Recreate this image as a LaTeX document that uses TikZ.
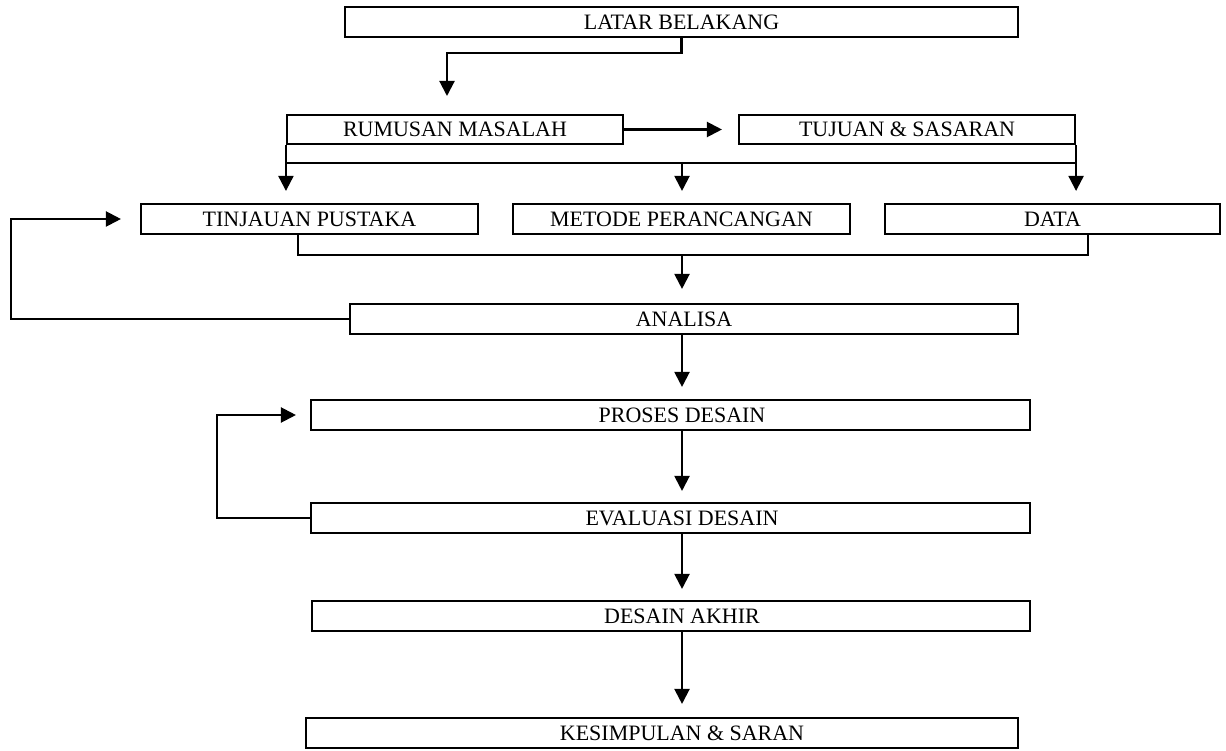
\documentclass[tikz,border=0pt]{standalone}
\usepackage{fontspec}
\setmainfont{Liberation Serif}
\usetikzlibrary{positioning}
\usetikzlibrary{arrows.meta}
\tikzstyle{stage} = [rectangle, draw=black, line width=1.2pt, minimum height=0.6cm, inner sep=0pt, text centered, font=\fontsize{12.5}{14}\selectfont]
\tikzstyle{stagetext} = [inner sep=0pt, font=\fontsize{12.5}{14}\selectfont]
\tikzstyle{arrow} = [line width=1.2pt, -{Triangle[width=0.3cm,length=0.3cm]}, shorten >=0.24cm]
\tikzstyle{link} = [line width=1.2pt]

\begin{document}
\begin{tikzpicture}
\useasboundingbox (0,0) rectangle (24.52,-15.02);
\node (latar) [stage, minimum width=13.46cm] at (13.63,-0.44) {LATAR BELAKANG};
\node (rumusan) [stage, minimum width=6.72cm, minimum height=0.58cm] at (9.10,-2.59) {RUMUSAN MASALAH};
\node (tujuan) [stage, minimum width=6.72cm, minimum height=0.58cm] at (18.14,-2.59) {TUJUAN \& SASARAN};
\node (tinjauan) [stage, minimum width=6.74cm] at (6.19,-4.38) {TINJAUAN PUSTAKA};
\node (metode) [stage, minimum width=6.74cm] at (13.63,-4.38) {METODE PERANCANGAN};
\node (data) [stage, minimum width=6.70cm] at (21.05,-4.38) {DATA};
\node (analisa) [stage, minimum width=13.36cm] at (13.68,-6.38) {ANALISA};
\node (proses) [stage, minimum width=14.38cm, label={[stagetext, xshift=0.23cm]center:PROSES DESAIN}] at (13.41,-8.30) {};
\node (evaluasi) [stage, minimum width=14.38cm, label={[stagetext, xshift=0.23cm]center:EVALUASI DESAIN}] at (13.41,-10.36) {};
\node (akhir) [stage, minimum width=14.36cm, label={[stagetext, xshift=0.22cm]center:DESAIN AKHIR}] at (13.42,-12.32) {};
\node (kesimpulan) [stage, minimum width=14.24cm, label={[stagetext, xshift=0.40cm]center:KESIMPULAN \& SARAN}] at (13.24,-14.66) {};

\coordinate (drop) at (8.94,-1.92);
\coordinate (split) at (13.64,-3.24);
\coordinate (merge) at (13.64,-5.10);

% top part
\draw [arrow, shorten >=0pt] (latar.south) -- ++(0,-0.30) -| (drop);
\draw [arrow, shorten >=0.32cm] (rumusan) -- (tujuan);
\draw [link] (rumusan.south west) -- ++(0,-0.36) -| (tujuan.south east);
\draw [arrow] (rumusan.south west) -- (rumusan.south west |- tinjauan.north);
\draw [arrow] (split) -- (split |- metode.north);
\draw [arrow] (tujuan.south east) -- (tujuan.south east |- data.north);

% collect into analisa
\draw [link] ([xshift=-0.23cm]tinjauan.south) |- (merge) -| ([xshift=0.71cm]data.south);
\draw [arrow, shorten >=0.28cm] (merge) -- (merge |- analisa.north);
\draw [arrow, shorten >=0.38cm] (analisa.west) -- ++(-6.76,0) |- (tinjauan.west);

% design loop
\draw [arrow] (analisa.south -| merge) -- (proses.north -| merge);
\draw [arrow, shorten >=0.22cm] (proses.south -| merge) -- (evaluasi.north -| merge);
\draw [arrow, shorten >=0.28cm] (evaluasi.west) -- ++(-1.86,0) |- (proses.west);
\draw [arrow, shorten >=0.22cm] (evaluasi.south -| merge) -- (akhir.north -| merge);
\draw [arrow, shorten >=0.26cm] (akhir.south -| merge) -- (kesimpulan.north -| merge);

\end{tikzpicture}
\end{document}
